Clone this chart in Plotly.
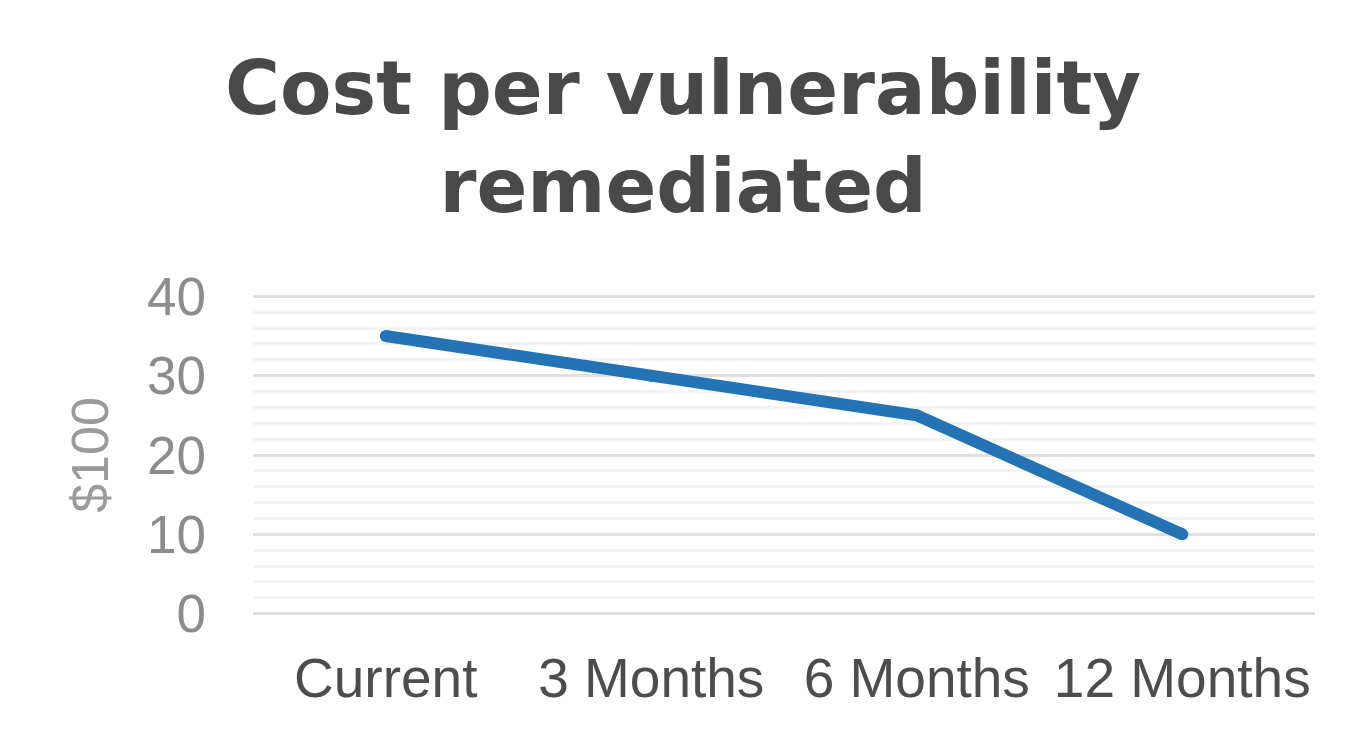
import plotly.graph_objects as go

categories = ["Current", "3 Months", "6 Months", "12 Months"]
cost_values = [35, 30, 25, 10]
y_tick_values = [0, 10, 20, 30, 40]
y_tick_labels = ["0", "10", "20", "30", "40"]
title_text = "Cost per vulnerability<br>remediated"
y_title_text = "$100"

W, H = 1350, 723
L, R, T, B = 245, 43, 286, 115
plot_h = H - T - B

fig = go.Figure()
fig.add_trace(go.Scatter(
    x=categories, y=cost_values, mode="lines+markers",
    line=dict(color="#2474B5", width=12),
    marker=dict(color="#2474B5", size=12, line=dict(width=0)),
    showlegend=False, hoverinfo="skip",
))

fig.add_annotation(
    text=title_text, xref="paper", yref="paper",
    x=(W / 2 - L) / (W - L - R), y=(H - B - 129) / plot_h,
    xanchor="center", yanchor="middle", showarrow=False, align="center",
    font=dict(family="DejaVu Sans", size=75, color="#494949", weight="bold"),
)

fig.update_layout(
    width=W, height=H,
    paper_bgcolor="white", plot_bgcolor="white",
    margin=dict(l=L, r=R, t=T, b=B),
    xaxis=dict(
        type="category", range=[-0.5, 3.5],
        showgrid=False, zeroline=False, showline=False, ticks="",
        tickfont=dict(family="Liberation Sans, Arial", size=55, color="#4d4d4d"),
        ticklabelstandoff=25,
    ),
    yaxis=dict(
        range=[-0.3, 40.3], tickvals=y_tick_values, ticktext=y_tick_labels,
        showgrid=True, gridcolor="#e0e0e0", gridwidth=3,
        minor=dict(dtick=2, showgrid=True, gridcolor="#f3f3f3", gridwidth=3),
        zeroline=False, showline=False, ticks="",
        tickfont=dict(family="Liberation Sans, Arial", size=53, color="#8c8c8c"),
        ticklabelstandoff=46,
        title=dict(text=y_title_text, standoff=21,
                   font=dict(family="Liberation Sans Narrow, Liberation Sans", size=52, color="#9a9a9a")),
    ),
)

fig.write_html("out.html")
